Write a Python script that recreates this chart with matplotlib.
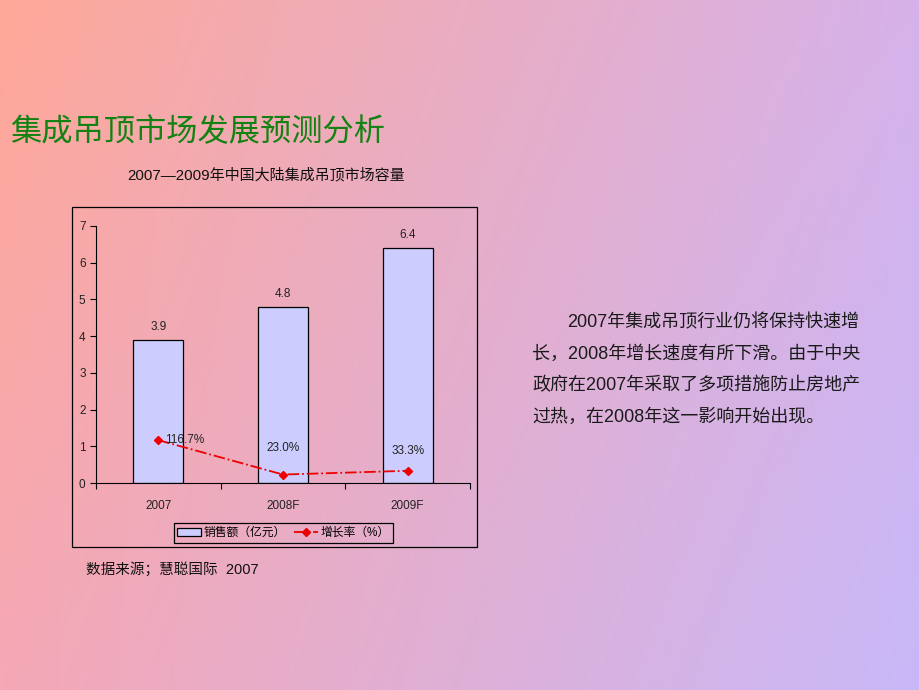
import numpy as np
import matplotlib
matplotlib.use("Agg")
import matplotlib.pyplot as plt
from matplotlib.patches import Patch, Rectangle
from matplotlib.lines import Line2D

plt.rcParams['font.family'] = ['Liberation Sans', 'Noto Sans CJK SC', 'DejaVu Sans']

categories = ["2007", "2008F", "2009F"]
sales = [3.9, 4.8, 6.4]
growth = [1.167, 0.230, 0.333]
growth_labels = ["116.7%", "23.0%", "33.3%"]
yticks = [0, 1, 2, 3, 4, 5, 6, 7]

title = "集成吊顶市场发展预测分析"
subtitle = "2007—2009年中国大陆集成吊顶市场容量"
para_lines = ["2007年集成吊顶行业仍将保持快速增",
              "长，2008年增长速度有所下滑。由于中央",
              "政府在2007年采取了多项措施防止房地产",
              "过热，在2008年这一影响开始出现。"]
source = "数据来源；慧聪国际  2007"
legend_labels = ["销售额（亿元）", "增长率（%）"]

W, H = 920, 690
fig = plt.figure(figsize=(W / 100, H / 100), dpi=100)

# background gradient
bg = fig.add_axes([0, 0, 1, 1], zorder=-10)
tl = np.array([255, 168, 152]) / 255
tr = np.array([214, 178, 234]) / 255
bl = np.array([245, 168, 182]) / 255
br = np.array([200, 184, 248]) / 255
u = np.linspace(0, 1, 200)[None, :, None]
v = np.linspace(0, 1, 150)[:, None, None]
img = (1 - v) * ((1 - u) * tl + u * tr) + v * ((1 - u) * bl + u * br)
bg.imshow(img, aspect='auto', extent=[0, 1, 0, 1], origin='upper')
bg.set_xlim(0, 1); bg.set_ylim(0, 1)
bg.axis('off')

def fx(px):
    return px / W

def fy(py):
    return 1 - py / H

# outer frame of the chart
fig.patches.append(Rectangle((fx(72), fy(547)), fx(477) - fx(72), fy(207) - fy(547),
                             transform=fig.transFigure, fill=False, edgecolor='black',
                             linewidth=0.9, zorder=1))

ax = fig.add_axes([fx(96), fy(483), fx(470) - fx(96), fy(226) - fy(483)])
ax.patch.set_alpha(0)
x = np.arange(len(categories))
ax.bar(x, sales, width=0.4, color='#CCCCFF', edgecolor='black', linewidth=0.9, zorder=2)
for xi, s in zip(x, sales):
    ax.text(xi, s + 0.18, f"{s}", ha='center', va='bottom', fontsize=8.5, color='#222222')
ax.plot(x, growth, color='#EE0000', linestyle='-.', linewidth=1.3, marker='D',
        markersize=4.5, zorder=3)
offsets = [(0.05, 0.0), (0.0, 0.72), (0.0, 0.55)]
has = ['left', 'center', 'center']
for xi, g, lab, (dx, dy), ha in zip(x, growth, growth_labels, offsets, has):
    ax.text(xi + dx, g + dy, lab, ha=ha, va='center', fontsize=8.5, color='#222222', zorder=4)

ax.set_xlim(-0.5, 2.5)
ax.set_ylim(0, 7)
ax.set_yticks(yticks)
ax.set_xticks([-0.5, 0.5, 1.5, 2.5])
ax.set_xticklabels([])
ax.set_xticks(x, minor=True)
ax.set_xticklabels(categories, minor=True, fontsize=8.5, color='#222222')
ax.tick_params(axis='x', which='minor', length=0, pad=12)
ax.tick_params(axis='x', which='major', length=4, direction='out')
ax.tick_params(axis='y', labelsize=8.5, labelcolor='#222222', length=4, direction='out')
ax.spines['top'].set_visible(False)
ax.spines['right'].set_visible(False)

handles = [Patch(facecolor='#CCCCFF', edgecolor='black', linewidth=0.9),
           Line2D([0], [0], color='#EE0000', linestyle='-.', marker='D', markersize=4.5, linewidth=1.3)]
leg = fig.legend(handles, legend_labels, loc='center',
                 bbox_to_anchor=((fx(181) + fx(386)) / 2, (fy(522) + fy(544)) / 2),
                 ncol=2, fontsize=8.5, frameon=True, fancybox=False,
                 handlelength=2.0, columnspacing=0.7,
                 borderpad=0.3, handletextpad=0.25, borderaxespad=0)
frame = leg.get_frame()
frame.set_facecolor('none')
frame.set_edgecolor('black')
frame.set_alpha(None)
frame.set_linewidth(0.9)

fig.text(fx(10), fy(132), title, fontsize=22.5, color='#128212', ha='left', va='center',
         family=['Noto Sans CJK SC', 'DejaVu Sans'])
fig.text(fx(266), fy(175), subtitle, fontsize=10.8, color='#111111', ha='center', va='center')

ys = [323, 354, 386, 417]
xs = [567, 532, 532, 532]
for line, px, py in zip(para_lines, xs, ys):
    fig.text(fx(px), fy(py), line, fontsize=13, color='#1a1a1a', ha='left', va='center')

fig.text(fx(86), fy(569), source, fontsize=10.5, color='#111111', ha='left', va='center')

fig.savefig("out.png", dpi=100)
